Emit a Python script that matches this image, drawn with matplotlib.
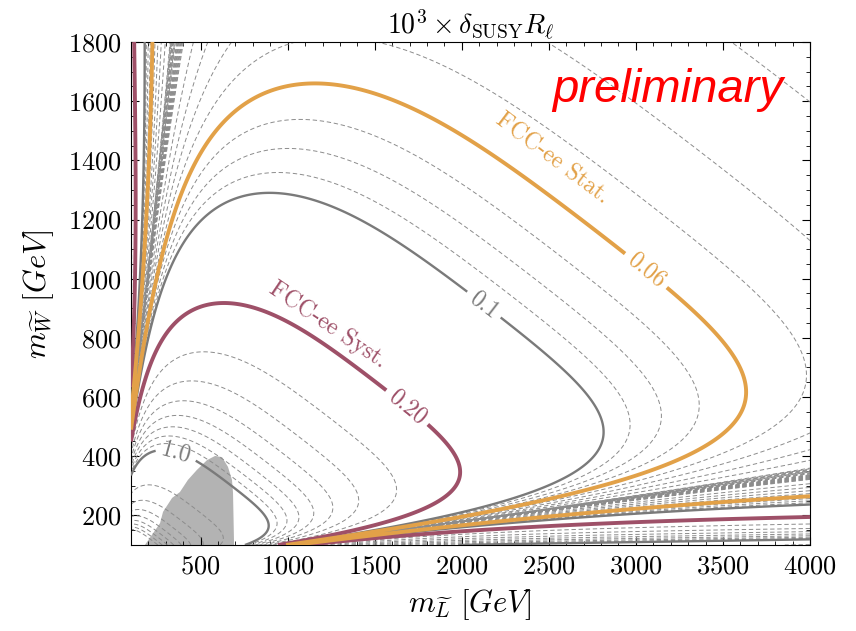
# -*- coding: utf-8 -*-
import numpy as np
import matplotlib
matplotlib.use('Agg')
import matplotlib.pyplot as plt
from matplotlib.ticker import MultipleLocator

plt.rcParams['font.family'] = 'serif'
plt.rcParams['font.serif'] = ['cmr10']
plt.rcParams['mathtext.fontset'] = 'cm'
plt.rcParams['axes.formatter.use_mathtext'] = True
plt.rcParams['lines.dashed_pattern'] = [4.5, 2.8]

RED = '#9e5068'
ORANGE = '#e2a148'
GREY = '#7a7a7a'
DASH = '#8c8c8c'

## values, masses in GeV
# FCC-ee Syst. curve (level 0.20), main lobe
syst_x = [324, 422, 611, 743, 881, 1031, 1186, 1341, 1490, 1599, 1846, 1932, 1978, 1990, 1932, 1743, 1547]
syst_y = [889, 908, 915, 911, 888, 844, 786, 725, 668, 637, 512, 455, 397, 354, 279, 225, 185]
# FCC-ee Stat. curve (level 0.06), top and left side of the lobe
stat_x = [1243, 956, 766, 611, 496, 422, 364, 324, 209]
stat_y = [1678, 1563, 1531, 1477, 1403, 1325, 1234, 1132, 928]
# single points: tips of the 0.1 and 0.06 lobes
tip_lev = [0.1, 0.06]
tip_x = [2823, 3627]
tip_y = [465, 641]
# outer branches (beyond the zero lines), read at the frame
edge_lev = [0.2, 0.1, 0.06, 0.06, 0.1, 0.2, 0.3]
edge_x = [123, 169, 219, 4000, 4000, 4000, 4000]
edge_y = [1800, 1800, 1800, 269, 242, 195, 168]
# lines where all curves pile up (delta changes sign)
zero_left_x = [358, 100]
zero_left_y = [1800, 512]
zero_low_x = [1013, 4000]
zero_low_y = [100, 339]

# grey excluded region
shade_x = [180, 267, 284, 336, 381, 427, 479, 537, 583, 623, 657, 680, 686, 692]
shade_y = [100, 174, 212, 259, 279, 320, 354, 387, 401, 397, 364, 320, 276, 100]

# contour levels
dashed_levels = [0.001, 0.002, 0.003, 0.004, 0.005, 0.006, 0.007, 0.008, 0.009,
                 0.01, 0.02, 0.03, 0.04, 0.05, 0.07, 0.08, 0.09,
                 0.3, 0.4, 0.5, 0.6, 0.7, 0.8, 0.9,
                 2, 3, 4, 5, 6, 7, 8, 9]
grey_levels = [0.1, 1.0]
syst_level = 0.2
stat_level = 0.06

# label spots
grey_lab = [(2179, 952), (353, 397)]
syst_lab = [(1720, 590)]
stat_lab = [(3130, 1080)]


# ---- field: delta ~ G(angle) / r^2 around the point the zero lines meet ----
def cross(ax_, ay_, bx_, by_):
    s1 = (ay_[1] - ay_[0]) / (ax_[1] - ax_[0])
    s2 = (by_[1] - by_[0]) / (bx_[1] - bx_[0])
    x0 = (by_[0] - ay_[0] + s1 * ax_[0] - s2 * bx_[0]) / (s1 - s2)
    return x0, ay_[0] + s1 * (x0 - ax_[0])

cx, cy = cross(zero_left_x, zero_left_y, zero_low_x, zero_low_y)

def ang(x, y):
    return np.degrees(np.arctan2(np.asarray(y, float) - cy, np.asarray(x, float) - cx))

def rr(x, y):
    return (np.asarray(x, float) - cx) ** 2 + (np.asarray(y, float) - cy) ** 2

phi_lo = ang(zero_low_x[1], zero_low_y[1])
phi_hi = ang(zero_left_x[0], zero_left_y[0])

p = np.concatenate([ang(syst_x, syst_y), ang(stat_x, stat_y), ang(tip_x, tip_y),
                    ang(edge_x, edge_y)])
g = np.concatenate([syst_level * rr(syst_x, syst_y), stat_level * rr(stat_x, stat_y),
                    np.array(tip_lev) * rr(tip_x, tip_y),
                    -np.array(edge_lev) * rr(edge_x, edge_y)])
h = g / ((p - phi_lo) * (phi_hi - p))
u = np.log(np.tan(np.radians(p)))
w = np.ones_like(p)
n0 = len(syst_x) + len(stat_x)
w[n0:n0 + len(tip_x)] = 3.0
coef = np.polyfit(u, np.log(h), 6, w=w)

def field(x, y):
    a = ang(x, y)
    uu = np.log(np.tan(np.radians(a)))
    return np.abs((a - phi_lo) * (phi_hi - a) * np.exp(np.polyval(coef, uu)) / rr(x, y))

xg = np.linspace(100, 4000, 1000)
yg = np.linspace(100, 1800, 800)
X, Y = np.meshgrid(xg, yg)
Z = field(X, Y)

# ---- plot ----
fig = plt.figure(figsize=(8.56, 6.31), dpi=100)
ax = fig.add_axes([131 / 856, 1 - 545 / 631, 679 / 856, 503 / 631])

ax.fill(shade_x, shade_y, color='#b3b3b3', lw=0, zorder=1)

ax.contour(X, Y, Z, levels=dashed_levels, colors=DASH, linewidths=0.7,
           linestyles='dashed', zorder=2)
cg = ax.contour(X, Y, Z, levels=grey_levels, colors=GREY, linewidths=1.7, zorder=3)
cs = ax.contour(X, Y, Z, levels=[syst_level], colors=RED, linewidths=2.8, zorder=4)
ct = ax.contour(X, Y, Z, levels=[stat_level], colors=ORANGE, linewidths=2.8, zorder=4)

ax.clabel(cg, manual=grey_lab, fmt={0.1: '0.1', 1.0: '1.0'}, fontsize=17, inline_spacing=6)
ax.clabel(cs, manual=syst_lab, fmt={syst_level: '0.20'}, fontsize=17, inline_spacing=6)
ax.clabel(ct, manual=stat_lab, fmt={stat_level: '0.06'}, fontsize=17, inline_spacing=6)

ax.text(1231, 843, 'FCC-ee Syst.', rotation=-34, color=RED, fontsize=17,
        ha='center', va='center', rotation_mode='anchor')
ax.text(2520, 1405, 'FCC-ee Stat.', rotation=-37, color=ORANGE, fontsize=17,
        ha='center', va='center', rotation_mode='anchor')
ax.text(0.79, 0.905, 'preliminary', transform=ax.transAxes, color='red', fontsize=34,
        style='italic', family='Liberation Sans', ha='center', va='center')

ax.set_xlim(100, 4000)
ax.set_ylim(100, 1800)
ax.xaxis.set_major_locator(MultipleLocator(500))
ax.xaxis.set_minor_locator(MultipleLocator(100))
ax.yaxis.set_major_locator(MultipleLocator(200))
ax.yaxis.set_minor_locator(MultipleLocator(50))
ax.tick_params(which='both', direction='in', top=True, right=True, labelsize=19, pad=7)
ax.tick_params(which='major', length=6)
ax.tick_params(which='minor', length=3)

ax.set_xlabel(r'$m_{\widetilde{L}}\ [GeV]$', fontsize=22, labelpad=6)
ax.set_ylabel(r'$m_{\widetilde{W}}\ [GeV]$', fontsize=22, labelpad=8)
ax.set_title(r'$10^3 \times \delta_{\rm SUSY} R_\ell$', fontsize=20, pad=4)

fig.savefig('out.png', dpi=100)
